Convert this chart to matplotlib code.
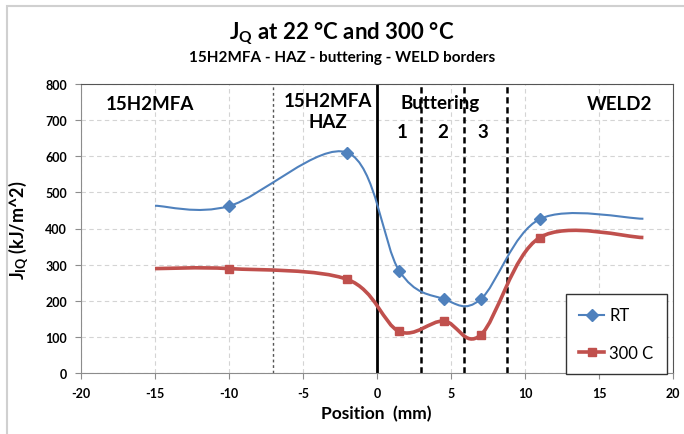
"""JQ vs position across the 15H2MFA / HAZ / buttering / weld borders."""

import matplotlib
matplotlib.use("Agg")
import matplotlib.pyplot as plt
from matplotlib.path import Path
from matplotlib.patches import PathPatch, Rectangle
from matplotlib.lines import Line2D

plt.rcParams["font.family"] = ["Lato", "DejaVu Sans"]
plt.rcParams["mathtext.fontset"] = "custom"
plt.rcParams["mathtext.rm"] = "Lato"
plt.rcParams["mathtext.bf"] = "Lato:bold"
plt.rcParams["mathtext.it"] = "Lato:italic"
plt.rcParams["axes.unicode_minus"] = False

# data
position = [-15, -10, -2, 1.5, 4.5, 7, 11, 18]
jq_rt = [463, 462, 610, 283, 205, 204, 426, 427]
jq_300 = [289, 289, 259, 115, 144, 105, 375, 375]

# zone borders (mm)
haz_border = -7
fusion_line = 0
buttering_borders = [3, 5.9, 8.75]

x_ticks = [-20, -15, -10, -5, 0, 5, 10, 15, 20]
y_ticks = [0, 100, 200, 300, 400, 500, 600, 700, 800]

BLUE = "#4F81BD"
RED = "#C0504D"


def smooth_path(xs: list, ys: list) -> Path:
    """Excel-like smoothed line: Catmull-Rom segments as cubic Beziers."""
    pts = list(zip(xs, ys))
    n = len(pts)
    verts = [pts[0]]
    codes = [Path.MOVETO]
    for i in range(n - 1):
        p0 = pts[i - 1] if i > 0 else pts[i]
        p1 = pts[i]
        p2 = pts[i + 1]
        p3 = pts[i + 2] if i + 2 < n else pts[i + 1]
        c1 = (p1[0] + (p2[0] - p0[0]) / 6, p1[1] + (p2[1] - p0[1]) / 6)
        c2 = (p2[0] - (p3[0] - p1[0]) / 6, p2[1] - (p3[1] - p1[1]) / 6)
        verts += [c1, c2, p2]
        codes += [Path.CURVE4] * 3
    return Path(verts, codes)


fig = plt.figure(figsize=(6.84, 4.35), dpi=100)
W, H = 684, 435
ax = fig.add_axes([81 / W, (H - 374) / H, (673 - 81) / W, (374 - 85) / H])

# outer chart frame
fig.add_artist(Rectangle((7 / W, -0.05), 1.1, (H - 7) / H + 0.05,
                         transform=fig.transFigure, fill=False,
                         edgecolor="#D0D0D0", lw=1.5))

ax.set_xlim(-20, 20)
ax.set_ylim(0, 800)
ax.set_xticks(x_ticks)
ax.set_yticks(y_ticks)
ax.grid(True, color="#D4D4D4", linestyle=(0, (4, 3)), lw=0.8)
ax.set_axisbelow(True)

for side in ["left", "bottom"]:
    ax.spines[side].set_color("#8C8C8C")
for side in ["top", "right"]:
    ax.spines[side].set_color("#555555")
ax.tick_params(direction="out", length=4, color="#8C8C8C", pad=6)
for lbl in ax.get_xticklabels() + ax.get_yticklabels():
    lbl.set_fontweight("bold")
    lbl.set_fontsize(9)

# zone border lines
ax.axvline(haz_border, color="#555555", lw=1.0, linestyle=(0, (2, 2)))
ax.axvline(fusion_line, color="black", lw=2.0)
for b in buttering_borders:
    ax.axvline(b, color="black", lw=1.8, linestyle=(0, (2.5, 1.5)))

# smoothed curves
ax.add_patch(PathPatch(smooth_path(position, jq_rt), facecolor="none",
                       edgecolor=BLUE, lw=1.5, zorder=4))
ax.add_patch(PathPatch(smooth_path(position, jq_300), facecolor="none",
                       edgecolor=RED, lw=2.6, zorder=4))
# markers (end points have none)
ax.plot(position[1:-1], jq_rt[1:-1], linestyle="none", marker="D",
        ms=6, color=BLUE, zorder=5)
ax.plot(position[1:-1], jq_300[1:-1], linestyle="none", marker="s",
        ms=5.5, color=RED, zorder=5)

# zone labels
fig.text(150 / W, 1 - 105 / H, "15H2MFA", fontsize=13.5, fontweight="bold",
         ha="center", va="center")
fig.text(328 / W, 1 - 112 / H, "15H2MFA\nHAZ", fontsize=13.5,
         fontweight="bold", ha="center", va="center", linespacing=1.25)
fig.text(440 / W, 1 - 104 / H, "Buttering", fontsize=13.5, fontweight="bold",
         ha="center", va="center")
for xp, s in [(401.7, "1"), (442.7, "2"), (483.3, "3")]:
    fig.text(xp / W, 1 - 133 / H, s, fontsize=13.5, fontweight="bold",
             ha="center", va="center")
fig.text(620 / W, 1 - 104 / H, "WELD2", fontsize=13.5, fontweight="bold",
         ha="center", va="center")

# titles and axis labels
fig.text(342 / W, 1 - 34 / H, r"J$_\mathbf{Q}$ at 22 °C and 300 °C",
         fontsize=16, fontweight="bold", ha="center", va="center")
fig.text(342 / W, 1 - 58 / H, "15H2MFA - HAZ - buttering - WELD borders",
         fontsize=11, fontweight="bold", ha="center", va="center")
fig.text(376 / W, 1 - 414 / H, "Position  (mm)", fontsize=12.5,
         fontweight="bold", ha="center", va="center")
fig.text(19 / W, 1 - 230 / H, r"J$_\mathbf{IQ}$ (kJ/m^2)", fontsize=13,
         fontweight="bold", ha="center", va="center", rotation=90)

# legend
handles = [
    Line2D([], [], color=BLUE, lw=1.5, marker="D", ms=6),
    Line2D([], [], color=RED, lw=2.6, marker="s", ms=5.5),
]
leg = ax.legend(handles, ["RT", "300 C"], loc="upper left",
                bbox_to_anchor=(566 / W, 1 - 295 / H),
                bbox_transform=fig.transFigure, fontsize=12,
                fancybox=False, edgecolor="#333333", framealpha=1,
                handlelength=1.5, handletextpad=0.3, labelspacing=1.3,
                borderpad=0.8, borderaxespad=0)
leg.get_frame().set_linewidth(1.0)
leg.set_zorder(10)

fig.savefig("out.png", dpi=100)
